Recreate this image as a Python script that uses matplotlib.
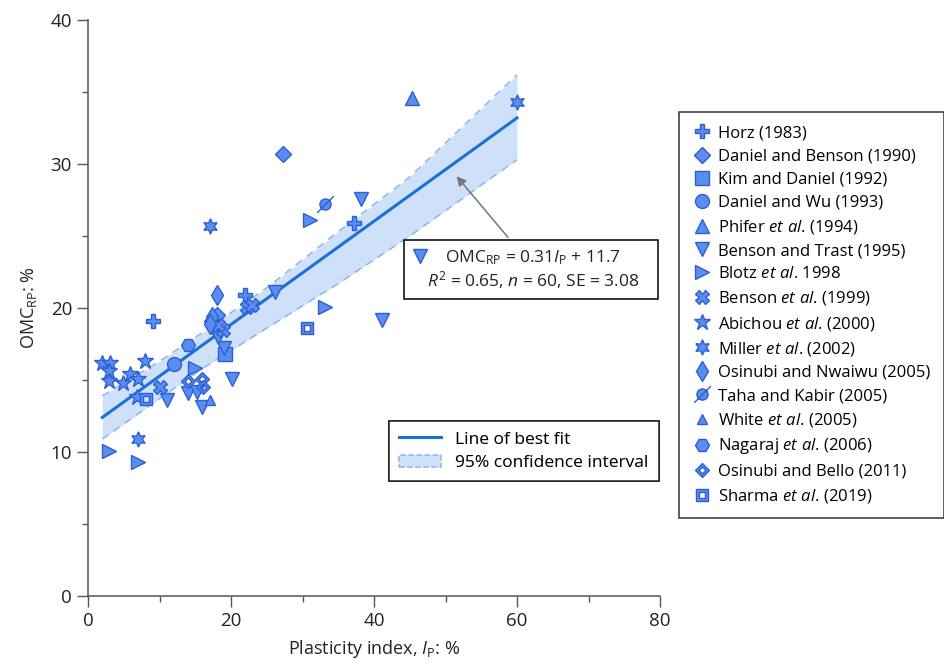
import numpy as np
import matplotlib
matplotlib.use("Agg")
import matplotlib.pyplot as plt
from matplotlib.path import Path
from matplotlib.lines import Line2D
from matplotlib.patches import Patch, Rectangle

plt.rcParams["font.family"] = ["Open Sans", "DejaVu Sans"]
plt.rcParams["mathtext.fontset"] = "custom"
plt.rcParams["mathtext.rm"] = "Open Sans"
plt.rcParams["mathtext.it"] = "Open Sans:italic"

# data: plasticity index (x) and OMC_RP (y)
horz_ip, horz_omc = [9.1, 22.0, 37.2], [19.1, 20.9, 25.9]
danben_ip, danben_omc = [27.3, 18.0, 17.4], [30.7, 19.5, 19.1]
kim_ip, kim_omc = [19.2], [16.8]
danwu_ip, danwu_omc = [12.0], [16.1]
phifer_ip, phifer_omc = [45.3], [34.6]
bentrast_ip = [38.2, 26.2, 41.1, 20.1, 19.0, 11.0, 14.0, 15.3, 16.0, 17.3, 18.2]
bentrast_omc = [27.6, 21.1, 19.2, 15.1, 17.2, 13.6, 14.1, 14.2, 13.1, 18.7, 18.0]
blotz_ip, blotz_omc = [2.9, 7.0, 15.0, 31.0, 33.1], [10.1, 9.3, 15.8, 26.1, 20.1]
benson_ip, benson_omc = [10.0, 22.2, 23.0, 18.9, 18.2], [14.5, 20.1, 20.2, 18.5, 18.8]
abichou_ip = [2.0, 3.1, 2.9, 2.9, 4.9, 5.9, 7.0, 8.0, 6.9]
abichou_omc = [16.2, 16.2, 15.6, 14.9, 14.8, 15.4, 15.1, 16.3, 13.8]
miller_ip, miller_omc = [17.0, 7.0, 60.0], [25.7, 10.9, 34.3]
osnw_ip, osnw_omc = [18.0, 17.3, 17.0], [20.9, 19.4, 18.9]
taha_ip, taha_omc = [33.1], [27.2]
white_ip, white_omc = [17.0], [13.6]
nagaraj_ip, nagaraj_omc = [14.0], [17.4]
osbello_ip, osbello_omc = [14.0, 16.0, 16.1], [14.9, 15.1, 14.5]
sharma_ip, sharma_omc = [8.1, 30.6], [13.7, 18.6]

fit_ip = [2, 60]
fit_omc = [12.4, 33.2]
ci_ip = [2, 10, 16, 25, 35, 45, 60]
ci_upper = [13.9, 16.3, 18.3, 21.4, 25.3, 29.1, 36.2]
ci_lower = [10.9, 13.7, 15.8, 18.6, 21.7, 25.0, 30.3]

# custom marker paths
taha_marker = Path.make_compound_path(
    Path.unit_circle(),
    Path([(-1.5, -1.5), (1.5, 1.5)], [Path.MOVETO, Path.LINETO]))
osbello_marker = Path(
    [(0, -1), (1, 0), (0, 1), (-1, 0), (0, -1),
     (0, -0.5), (-0.5, 0), (0, 0.5), (0.5, 0), (0, -0.5)],
    [Path.MOVETO, Path.LINETO, Path.LINETO, Path.LINETO, Path.CLOSEPOLY] * 2)
sharma_marker = Path(
    [(-1, -1), (1, -1), (1, 1), (-1, 1), (-1, -1),
     (-0.5, -0.5), (-0.5, 0.5), (0.5, 0.5), (0.5, -0.5), (-0.5, -0.5)],
    [Path.MOVETO, Path.LINETO, Path.LINETO, Path.LINETO, Path.CLOSEPOLY] * 2)

studies = [
    ("Horz (1983)", horz_ip, horz_omc, "P", 10),
    ("Daniel and Benson (1990)", danben_ip, danben_omc, "D", 8),
    ("Kim and Daniel (1992)", kim_ip, kim_omc, "s", 10),
    ("Daniel and Wu (1993)", danwu_ip, danwu_omc, "o", 10),
    (r"Phifer $\mathit{et\ al}$. (1994)", phifer_ip, phifer_omc, "^", 10),
    ("Benson and Trast (1995)", bentrast_ip, bentrast_omc, "v", 10),
    (r"Blotz $\mathit{et\ al}$. 1998", blotz_ip, blotz_omc, ">", 10),
    (r"Benson $\mathit{et\ al}$. (1999)", benson_ip, benson_omc, "X", 10),
    (r"Abichou $\mathit{et\ al}$. (2000)", abichou_ip, abichou_omc, "*", 12),
    (r"Miller $\mathit{et\ al}$. (2002)", miller_ip, miller_omc, (6, 1, 0), 11),
    ("Osinubi and Nwaiwu (2005)", osnw_ip, osnw_omc, "d", 10),
    ("Taha and Kabir (2005)", taha_ip, taha_omc, taha_marker, 12),
    (r"White $\mathit{et\ al}$. (2005)", white_ip, white_omc, "^", 7),
    (r"Nagaraj $\mathit{et\ al}$. (2006)", nagaraj_ip, nagaraj_omc, "H", 10),
    ("Osinubi and Bello (2011)", osbello_ip, osbello_omc, osbello_marker, 10),
    (r"Sharma $\mathit{et\ al}$. (2019)", sharma_ip, sharma_omc, sharma_marker, 9),
]

face = "#5b8def"
edge = "#2c5fd4"
line_col = "#1a72d6"

fig = plt.figure(figsize=(9.44, 6.68), dpi=100)
ax = fig.add_axes([88 / 944, 72 / 668, 572 / 944, 576 / 668])

ax.fill_between(ci_ip, ci_lower, ci_upper, color="#cfe0fb", lw=0, zorder=1)
ax.plot(ci_ip, ci_upper, ls=(0, (5, 4)), color="#8db5f0", lw=1.1, zorder=2)
ax.plot(ci_ip, ci_lower, ls=(0, (5, 4)), color="#8db5f0", lw=1.1, zorder=2)
ax.plot(fit_ip, fit_omc, color=line_col, lw=2.2, zorder=3)

handles = []
for label, xs, ys, mk, ms in studies:
    h, = ax.plot(xs, ys, ls="none", marker=mk, markersize=ms,
                 markerfacecolor=face, markeredgecolor=edge,
                 markeredgewidth=1.0, zorder=4, label=label)
    handles.append(h)

ax.set_xlim(0, 80)
ax.set_ylim(0, 40)
ax.set_xticks([0, 20, 40, 60, 80])
ax.set_xticks([10, 30, 50, 70], minor=True)
ax.set_yticks([0, 10, 20, 30, 40])
ax.set_yticks([5, 15, 25, 35], minor=True)
ax.tick_params(which="major", length=8, width=1, color="#555555",
               labelsize=13.5, labelcolor="#222222")
ax.tick_params(which="minor", length=4, width=1, color="#555555")
for s in ["top", "right"]:
    ax.spines[s].set_visible(False)
for s in ["left", "bottom"]:
    ax.spines[s].set_color("#555555")
    ax.spines[s].set_linewidth(1.1)
ax.set_xlabel(r"Plasticity index, $I_{\mathrm{P}}$: %", fontsize=13,
              color="#222222", labelpad=6)
ax.set_ylabel(r"OMC$_{\mathrm{RP}}$: %", fontsize=13, color="#222222",
              labelpad=8)

# equation box with arrow
ax.add_patch(Rectangle((44.2, 20.6), 35.5, 4.15, facecolor="white",
                       edgecolor="black", lw=1.1, zorder=5))
ax.plot([46.5], [23.6], ls="none", marker="v", markersize=10,
        markerfacecolor=face, markeredgecolor=edge, zorder=6)
ax.text(62.2, 22.65,
        "OMC$_{\\mathrm{RP}}$ = 0.31$I_{\\mathrm{P}}$ + 11.7\n"
        "$R^{2}$ = 0.65, $n$ = 60, SE = 3.08",
        ha="center", va="center", multialignment="center",
        fontsize=12.5, color="#222222", linespacing=1.15, zorder=6)
ax.annotate("", xy=(51.3, 29.3), xytext=(59.0, 24.75),
            arrowprops=dict(arrowstyle="-|>", color="#777777", lw=1.1,
                            mutation_scale=14), zorder=6)

# fit legend
fit_handles = [
    Line2D([], [], color=line_col, lw=2.2),
    Patch(facecolor="#cfe0fb", edgecolor="#8db5f0", linestyle="--", lw=1.1),
]
leg1 = ax.legend(fit_handles, ["Line of best fit", "95% confidence interval"],
                 loc="upper left", bbox_to_anchor=(389 / 944, 1 - 421 / 668),
                 bbox_transform=fig.transFigure, fontsize=12.5,
                 frameon=True, fancybox=False, edgecolor="black",
                 borderaxespad=0, handlelength=2.4, labelspacing=0.4,
                 borderpad=0.6)
leg1.get_frame().set_linewidth(1.1)
leg1.set_zorder(7)
ax.add_artist(leg1)

# study legend outside the axes
leg2 = fig.legend(handles=handles, loc="upper left",
                  bbox_to_anchor=(679 / 944, 1 - 112 / 668), fontsize=12,
                  frameon=True, fancybox=False, edgecolor="black",
                  borderaxespad=0, handlelength=1.1, handletextpad=0.45,
                  labelspacing=0.43, borderpad=0.8)
leg2.get_frame().set_linewidth(1.1)

fig.savefig("out.png", dpi=100)
